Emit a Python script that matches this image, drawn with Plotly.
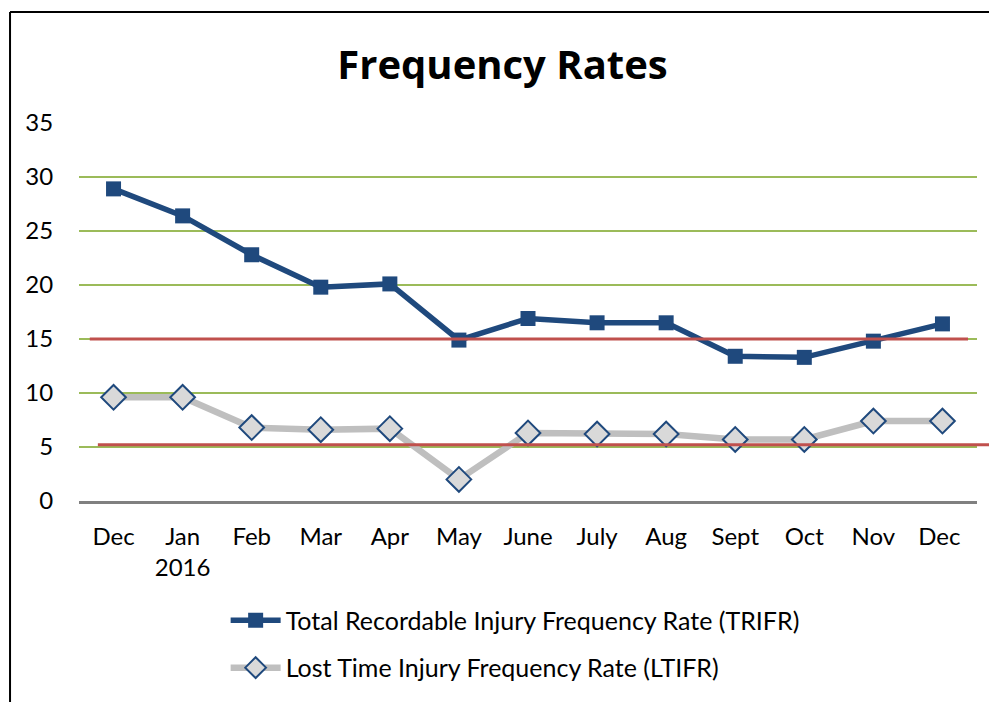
import plotly.graph_objects as go

months = ["Dec", "Jan<br>2016", "Feb", "Mar", "Apr", "May", "June", "July", "Aug", "Sept", "Oct", "Nov", "Dec "]
trifr = [28.9, 26.4, 22.8, 19.8, 20.1, 14.9, 16.9, 16.5, 16.5, 13.4, 13.3, 14.8, 16.4]
ltifr = [9.6, 9.6, 6.8, 6.6, 6.7, 2.0, 6.3, 6.2, 6.2, 5.7, 5.7, 7.4, 7.4]
targets = [15.0, 5.2]
y_ticks = [0, 5, 10, 15, 20, 25, 30, 35]

FONT = "Lato"
fig = go.Figure()
fig.add_trace(go.Scatter(
    x=months, y=trifr, mode="lines+markers",
    name="Total Recordable Injury Frequency Rate (TRIFR)",
    line=dict(color="#1F497D", width=5.5),
    marker=dict(symbol="square", size=15, color="#1F497D"),
    legendgroup="a"))
fig.add_trace(go.Scatter(
    x=months, y=ltifr, mode="lines+markers",
    name="Lost Time Injury Frequency Rate (LTIFR)",
    line=dict(color="#BFBFBF", width=6.5),
    marker=dict(symbol="diamond", size=19, color="#D9D9D9",
                line=dict(color="#1F497D", width=2)),
    legendgroup="b"))

# reference lines
fig.add_shape(type="line", xref="paper", yref="y", x0=0.012, x1=0.99,
              y0=targets[0], y1=targets[0], line=dict(color="#C0504D", width=3), layer="above")
fig.add_shape(type="line", xref="paper", yref="y", x0=0.021, x1=1.017,
              y0=targets[1], y1=targets[1], line=dict(color="#C0504D", width=3), layer="above")
# frame
fig.add_shape(type="line", xref="paper", yref="paper", x0=-0.0768, x1=-0.0768,
              y0=1.2937, y1=-0.6, line=dict(color="black", width=2))
fig.add_shape(type="line", xref="paper", yref="paper", x0=-0.0768, x1=1.021,
              y0=1.2937, y1=1.2937, line=dict(color="black", width=2))

fig.update_layout(
    width=989, height=694,
    margin=dict(l=71, r=20, t=115, b=201),
    paper_bgcolor="white", plot_bgcolor="white",
    font=dict(family=FONT, size=24, color="black"),
    title=dict(text="<b>Frequency Rates</b>", x=0.5, xanchor="center",
               y=0.918, yanchor="middle", font=dict(family="Open Sans", size=40, color="black")),
    showlegend=True,
    legend=dict(x=0.1633, y=-0.255, xanchor="left", yanchor="top",
                font=dict(family=FONT, size=25), tracegroupgap=12,
                itemwidth=50, bgcolor="rgba(0,0,0,0)"),
    xaxis=dict(range=[-0.5, 12.5], showgrid=False, showline=True, linecolor="#808080", linewidth=3,
               ticks="outside", ticklen=12, tickcolor="rgba(0,0,0,0)",
               tickfont=dict(family=FONT, size=24), fixedrange=True),
    yaxis=dict(range=[0, 35], tickvals=y_ticks, showgrid=True, gridcolor="#9BBB59",
               gridwidth=2, zeroline=False, showline=False,
               ticks="outside", ticklen=20, tickcolor="rgba(0,0,0,0)",
               tickfont=dict(family=FONT, size=24)),
)
fig.write_html("out.html")
